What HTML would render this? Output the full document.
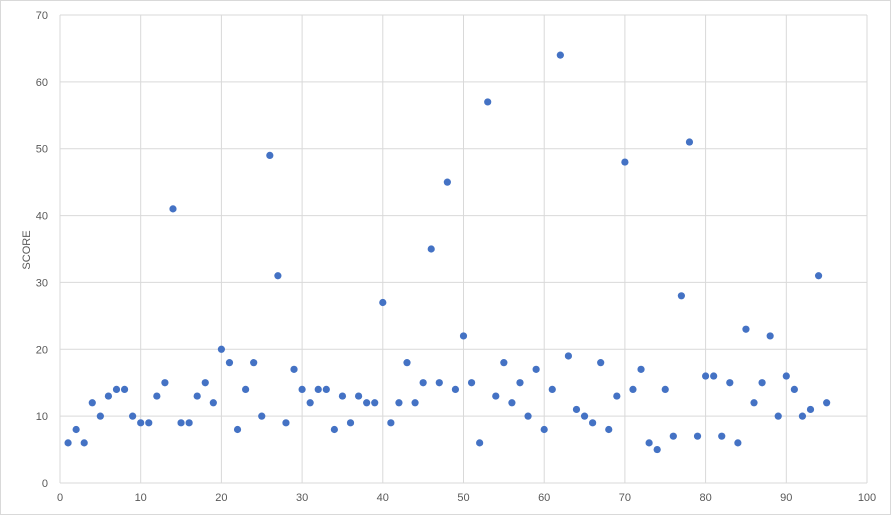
<!DOCTYPE html>
<html><head><meta charset="utf-8"><style>
html,body{margin:0;padding:0;background:#fff}
svg{display:block}
text{font-family:"Liberation Sans",sans-serif;font-size:11px;fill:#595959}
</style></head><body>
<svg id="s" width="891" height="515" xmlns="http://www.w3.org/2000/svg">
<rect x="0.5" y="0.5" width="890" height="514" fill="#fff" stroke="#d9d9d9"/>
<g id="g"></g>
<text transform="translate(30,250) rotate(-90)" text-anchor="middle" style="font-size:11px">SCORE</text>
</svg>
<script>
var L=60,R=867,T=15,B=483,ns="http://www.w3.org/2000/svg",g=document.getElementById('g');
function X(v){return L+(R-L)*v/100}function Y(v){return B-(B-T)*v/70}
function el(n,a,t){var e=document.createElementNS(ns,n);for(var k in a)e.setAttribute(k,a[k]);if(t!=null)e.textContent=t;g.appendChild(e);return e}
for(var i=0;i<=10;i++){var x=X(i*10);el('line',{x1:x,x2:x,y1:T,y2:B,stroke:'#d9d9d9','stroke-width':1});el('text',{x:x,y:B+18,'text-anchor':'middle'},i*10)}
for(var j=0;j<=7;j++){var y=Y(j*10);el('line',{x1:L,x2:R,y1:y,y2:y,stroke:'#d9d9d9','stroke-width':1});el('text',{x:L-12,y:y+4,'text-anchor':'end'},j*10)}
var d=[6,8,6,12,10,13,14,14,10,9,9,13,15,41,9,9,13,15,12,20,18,8,14,18,10,49,31,9,17,14,12,14,14,8,13,9,13,12,12,27,9,12,18,12,15,35,15,45,14,22,15,6,57,13,18,12,15,10,17,8,14,64,19,11,10,9,18,8,13,48,14,17,6,5,14,7,28,51,7,16,16,7,15,6,23,12,15,22,10,16,14,10,11,31,12];
d.forEach(function(v,i){el('circle',{cx:X(i+1),cy:Y(v),r:3.6,fill:'#4472c4'})});
</script>
</body></html>
